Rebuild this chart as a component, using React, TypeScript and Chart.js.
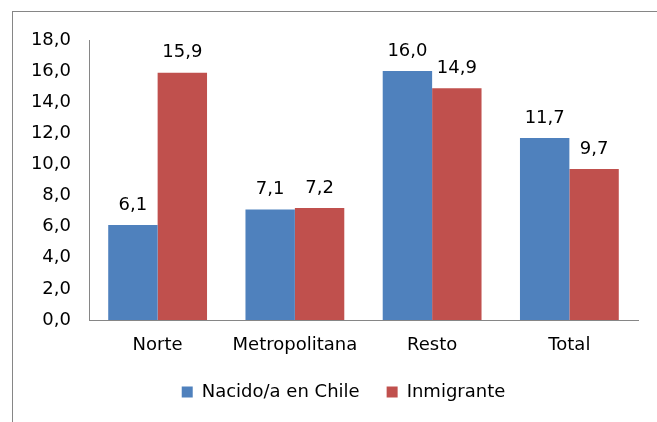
import React, { useEffect, useRef } from "react";
import { Chart, registerables } from "chart.js";

Chart.register(...registerables);

const categories = ["Norte", "Metropolitana", "Resto", "Total"];
const seriesNames = ["Nacido/a en Chile", "Inmigrante"];
const nacidoValues = [6.1, 7.1, 16.0, 11.7];
const inmigranteValues = [15.9, 7.2, 14.9, 9.7];
const seriesColors = ["#4F81BD", "#C0504D"];

const fmt = (v: number) => v.toFixed(1).replace(".", ",");

const FONT = "'DejaVu Sans', Verdana, sans-serif";
const FS = 18;

const framePlugin = {
  id: "frame",
  beforeDraw(chart: any) {
    const ctx = chart.ctx;
    ctx.save();
    ctx.fillStyle = "#ffffff";
    ctx.fillRect(0, 0, chart.width, chart.height);
    ctx.strokeStyle = "#868686";
    ctx.lineWidth = 1;
    ctx.strokeRect(12.5, 11.5, 800, 600);
    ctx.restore();
  },
};

const legendShiftPlugin = {
  id: "legendShift",
  afterLayout(chart: any) {
    if (chart.legend) {
      chart.legend.left = 49;
    }
  },
};

const labelsPlugin = {
  id: "valueLabels",
  afterDatasetsDraw(chart: any) {
    const ctx = chart.ctx;
    ctx.save();
    ctx.font = `${FS}px ${FONT}`;
    ctx.fillStyle = "#000000";
    ctx.textAlign = "center";
    ctx.textBaseline = "middle";
    chart.data.datasets.forEach((ds: any, i: number) => {
      const meta = chart.getDatasetMeta(i);
      meta.data.forEach((bar: any, j: number) => {
        ctx.fillText(fmt(ds.data[j]), bar.x, bar.y - 20);
      });
    });
    ctx.restore();
  },
};

export default function App() {
  const ref = useRef<HTMLCanvasElement | null>(null);

  useEffect(() => {
    if (!ref.current) return;
    const chart = new Chart(ref.current, {
      type: "bar",
      data: {
        labels: categories,
        datasets: [
          {
            label: seriesNames[0],
            data: nacidoValues,
            backgroundColor: seriesColors[0],
            categoryPercentage: 0.72,
            barPercentage: 1.0,
          },
          {
            label: seriesNames[1],
            data: inmigranteValues,
            backgroundColor: seriesColors[1],
            categoryPercentage: 0.72,
            barPercentage: 1.0,
          },
        ],
      },
      options: {
        animation: false,
        responsive: false,
        maintainAspectRatio: false,
        layout: { padding: { top: 40, right: 19, bottom: 11, left: 0 } },
        plugins: {
          legend: {
            position: "bottom",
            labels: {
              font: { family: FONT, size: FS },
              color: "#000000",
              boxWidth: 11,
              boxHeight: 11,
              padding: 27,
            },
          },
          tooltip: { enabled: false },
        },
        scales: {
          x: {
            grid: { display: false, drawTicks: false },
            border: { color: "#868686", width: 1 },
            ticks: {
              font: { family: FONT, size: FS },
              color: "#000000",
              padding: 15,
            },
            afterFit: (scale: any) => {
              scale.height = 36;
            },
          },
          y: {
            min: 0,
            max: 18,
            grid: { display: false, drawTicks: false },
            border: { color: "#868686", width: 1 },
            ticks: {
              stepSize: 2,
              font: { family: FONT, size: FS },
              color: "#000000",
              padding: 18,
              callback: (v: any) => fmt(Number(v)),
            },
            afterFit: (scale: any) => {
              scale.width = 89;
            },
          },
        },
      },
      plugins: [framePlugin, legendShiftPlugin, labelsPlugin],
    });
    return () => chart.destroy();
  }, []);

  return (
    <div style={{ position: "fixed", left: 0, top: 0, width: 657, height: 422 }}>
      <canvas ref={ref} width={657} height={422} style={{ display: "block" }} />
    </div>
  );
}
